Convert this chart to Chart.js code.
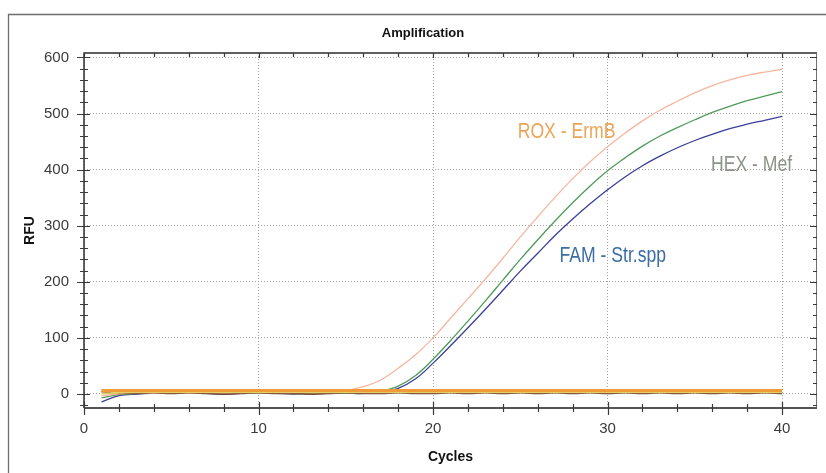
<!DOCTYPE html>
<html>
<head>
<meta charset="utf-8">
<title>Amplification</title>
<script src="https://cdn.jsdelivr.net/npm/chart.js@4.4.1/dist/chart.umd.min.js"></script>
<style>
  html, body { margin: 0; padding: 0; background: #fff; }
  #wrap { width: 826px; height: 473px; }
</style>
</head>
<body>
<div id="wrap"><canvas id="ampChart" width="826" height="473"></canvas></div>
<script>
// cycle numbers and RFU readings per channel
const cycles = [1, 2, 3, 4, 5, 6, 7, 8, 9, 10, 11, 12, 13, 14, 15, 16, 17, 18, 19, 20,
                21, 22, 23, 24, 25, 26, 27, 28, 29, 30, 31, 32, 33, 34, 35, 36, 37, 38, 39, 40];

const roxErmB = [-3, 0, 1, 1, 2, 1, 2, 1, 1, 2, 1, 2, 2, 3, 6, 13, 25, 46, 70, 100,
                 135, 170, 205, 242, 280, 316, 351, 384, 414, 441, 465, 487, 506, 522, 537, 550, 560, 568, 574, 579];
const hexMef  = [-7, -1, 1, 1, 1, 1, 1, 0, 1, 1, 1, 1, 0, 1, 1, 2, 5, 14, 33, 62,
                 95, 130, 166, 203, 240, 275, 309, 341, 371, 398, 421, 442, 460, 475, 489, 502, 513, 523, 531, 539];
const famStr  = [-14, -3, 0, 1, 1, 1, 1, 0, 1, 1, 1, 0, 1, 1, 1, 1, 3, 10, 27, 55,
                 86, 118, 151, 185, 219, 251, 283, 312, 339, 364, 387, 407, 424, 439, 452, 463, 473, 481, 488, 495];

// negative wells that stay on the baseline
const roxNeg = [6, 6, 6, 6, 6, 6, 6, 6, 6, 6, 6, 6, 6, 6, 6, 6, 6, 6, 6, 6,
                6, 6, 6, 6, 6, 6, 6, 6, 6, 6, 6, 6, 6, 6, 6, 6, 6, 6, 6, 6];
const hexNeg = [1, 2, 3, 3, 3, 3, 3, 3, 3, 3, 3, 3, 3, 3, 3, 3, 3, 3, 3, 3,
                3, 3, 3, 3, 3, 3, 3, 3, 3, 3, 3, 3, 3, 3, 3, 3, 3, 3, 3, 3];
const famNeg = [4, 1, 1, 2, 1, 2, 1, 0, 1, 2, 1, 1, 0, 1, 2, 1, 1, 2, 1, 1,
                2, 1, 2, 1, 2, 1, 2, 1, 2, 1, 2, 1, 2, 1, 2, 1, 2, 1, 2, 1];

const xTicks = [0, 10, 20, 30, 40];
const yTicks = [0, 100, 200, 300, 400, 500, 600];
const seriesNames = ['ROX - ErmB', 'HEX - Mef', 'FAM - Str.spp'];

const pts = vals => cycles.map((c, i) => ({ x: c, y: vals[i] }));

// frame, minor ticks, chart title and the curve captions
const decorations = {
    id: 'decorations',
    afterDraw(chart) {
        const { ctx, chartArea: a, scales: { x, y } } = chart;
        ctx.save();

        // outer panel edge
        ctx.strokeStyle = '#6e6e6e';
        ctx.lineWidth = 1.3;
        ctx.beginPath();
        ctx.moveTo(8.5, 473);
        ctx.lineTo(8.5, 14.5);
        ctx.lineTo(826, 14.5);
        ctx.stroke();

        // plot frame
        ctx.lineWidth = 1.5;
        ctx.strokeStyle = '#2e2e2e';
        ctx.beginPath();
        ctx.moveTo(a.left, a.bottom);
        ctx.lineTo(a.left, a.top);
        ctx.lineTo(a.right, a.top);
        ctx.stroke();
        ctx.strokeStyle = '#707070';
        ctx.lineWidth = 1;
        ctx.beginPath();
        ctx.moveTo(a.right - 0.5, a.top);
        ctx.lineTo(a.right - 0.5, a.bottom);
        ctx.stroke();
        ctx.strokeStyle = '#555';
        ctx.lineWidth = 2;
        ctx.beginPath();
        ctx.moveTo(a.left, a.bottom);
        ctx.lineTo(a.right, a.bottom);
        ctx.stroke();

        // ticks on all four sides
        ctx.strokeStyle = '#3a3a3a';
        ctx.lineWidth = 1.2;
        ctx.beginPath();
        for (let v = 0; v <= 40; v += 2) {
            const px = Math.round(x.getPixelForValue(v)) + 0.5;
            const major = v % 10 === 0;
            ctx.moveTo(px, a.bottom - (major ? 6 : 4));
            ctx.lineTo(px, a.bottom + (major ? 7 : 4));
            ctx.moveTo(px, a.top);
            ctx.lineTo(px, a.top + (major ? 5 : 4));
        }
        for (let v = -20; v <= 600; v += 20) {
            const py = Math.round(y.getPixelForValue(v)) + 0.5;
            const major = v % 100 === 0;
            ctx.moveTo(a.left - (major ? 7 : 4), py);
            ctx.lineTo(a.left + (major ? 6 : 4), py);
            ctx.moveTo(a.right, py);
            ctx.lineTo(a.right - (major ? 7 : 4), py);
        }
        ctx.stroke();

        ctx.fillStyle = '#111';
        ctx.font = 'bold 13px "Liberation Sans", Arial, sans-serif';
        ctx.textAlign = 'center';
        ctx.textBaseline = 'middle';
        ctx.fillText('Amplification', 423, 33);

        // captions anchored in data space, squeezed to a condensed face
        ctx.font = '22px "Liberation Sans", Arial, sans-serif';
        const caps = [
            { c: 27.65, r: 467, color: '#eda456' },
            { c: 38.25, r: 408, color: '#8b9489' },
            { c: 30.3, r: 246, color: '#3c6ea6' }
        ];
        caps.forEach((cp, i) => {
            ctx.save();
            ctx.translate(x.getPixelForValue(cp.c), y.getPixelForValue(cp.r));
            ctx.scale(0.8, 1);
            ctx.fillStyle = cp.color;
            ctx.fillText(seriesNames[i], 0, 0);
            ctx.restore();
        });
        ctx.restore();
    }
};

const line = (vals, color, width) => ({
    data: pts(vals),
    borderColor: color,
    borderWidth: width,
    pointRadius: 0,
    tension: 0.4,
    fill: false
});

const axisFont = { size: 14, weight: 'bold', family: '"Liberation Sans", Arial, sans-serif' };
const tickFont = { size: 15, family: '"Liberation Sans", Arial, sans-serif' };

new Chart(document.getElementById('ampChart'), {
    type: 'line',
    data: {
        datasets: [
            line(roxNeg, '#f19b38', 3),
            line(hexNeg, '#e2cf6a', 2),
            line(famNeg, '#6e3428', 1.5),
            line(roxErmB, '#f5b7a0', 1.3),
            line(hexMef, '#4f9a5a', 1.3),
            line(famStr, '#3b3f98', 1.3)
        ]
    },
    options: {
        responsive: false,
        animation: false,
        devicePixelRatio: 1,
        layout: { padding: { left: 8, top: 53, right: 9, bottom: 0 } },
        plugins: { legend: { display: false }, tooltip: { enabled: false } },
        scales: {
            x: {
                type: 'linear',
                min: 0,
                max: 42,
                afterBuildTicks: s => { s.ticks = xTicks.map(v => ({ value: v })); },
                afterFit: s => { s.height = 65; },
                ticks: { color: '#3a3a3a', padding: 12, maxRotation: 0, font: tickFont },
                grid: { color: '#a2a2a2', lineWidth: 1, drawTicks: false },
                border: { display: false, dash: [1, 2] },
                title: { display: true, text: 'Cycles', color: '#111', padding: { top: 0, bottom: 7 }, font: axisFont }
            },
            y: {
                type: 'linear',
                min: -25,
                max: 608,
                afterBuildTicks: s => { s.ticks = yTicks.map(v => ({ value: v })); },
                afterFit: s => { s.width = 76; },
                ticks: { color: '#3a3a3a', padding: 15, font: tickFont },
                grid: { color: '#a2a2a2', lineWidth: 1, drawTicks: false },
                border: { display: false, dash: [1, 2] },
                title: { display: true, text: 'RFU', color: '#111', padding: { top: 14, bottom: 0 }, font: axisFont }
            }
        }
    },
    plugins: [decorations]
});
</script>
</body>
</html>
